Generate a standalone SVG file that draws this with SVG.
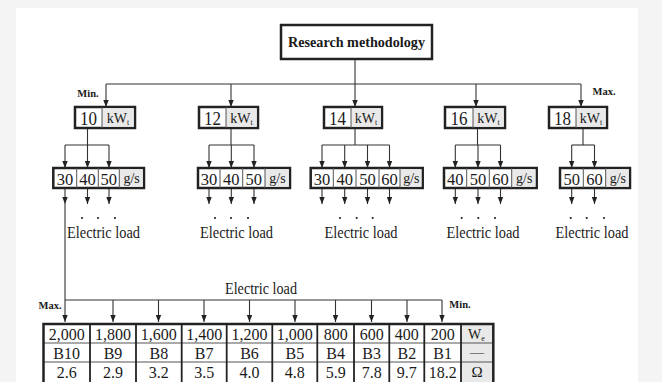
<svg xmlns="http://www.w3.org/2000/svg" width="662" height="382" viewBox="0 0 662 382">
<defs>
<marker id="ah" markerWidth="8" markerHeight="8" refX="7" refY="4" orient="auto" markerUnits="userSpaceOnUse">
<path d="M0,1.3 L7,4 L0,6.7 Z" fill="#222"/>
</marker>
<style>
.t{font-family:"Liberation Serif","Times New Roman",serif;fill:#1a1a1a;text-anchor:middle}
.b{font-weight:bold}
.box{fill:#fff;stroke:#222;stroke-width:2.5}
.unit{fill:#e9e9e9}
.div{stroke:#555;stroke-width:1}
.cdiv{stroke:#222;stroke-width:1.8}
.ln{stroke:#333;stroke-width:1.1;fill:none}
.ar{stroke:#333;stroke-width:1.1;fill:none;marker-end:url(#ah)}
.dot{fill:#222}
</style>
</defs>
<rect width="662" height="382" fill="#f4f4f4"/>
<rect x="16" y="8" width="622" height="380" fill="#fff"/>

<g id="connectors">
<line class="ln" x1="355" y1="59" x2="355" y2="84"/>
<line class="ln" x1="106" y1="84" x2="581" y2="84"/>
<line class="ar" x1="106" y1="84" x2="106" y2="107"/>
<line class="ar" x1="231" y1="84" x2="231" y2="107"/>
<line class="ar" x1="355" y1="84" x2="355" y2="107"/>
<line class="ar" x1="476" y1="84" x2="476" y2="107"/>
<line class="ar" x1="581" y1="84" x2="581" y2="107"/>
<line class="ln" x1="87.5" y1="128" x2="87.5" y2="145"/>
<line class="ln" x1="65" y1="145" x2="109" y2="145"/>
<line class="ar" x1="65" y1="145" x2="65" y2="168"/>
<line class="ar" x1="87.5" y1="145" x2="87.5" y2="168"/>
<line class="ar" x1="109" y1="145" x2="109" y2="168"/>
<line class="ar" x1="65" y1="188" x2="65" y2="204"/>
<line class="ar" x1="87.5" y1="188" x2="87.5" y2="204"/>
<line class="ar" x1="109" y1="188" x2="109" y2="204"/>
<line class="ln" x1="231" y1="128" x2="231" y2="145"/>
<line class="ln" x1="209" y1="145" x2="254" y2="145"/>
<line class="ar" x1="209" y1="145" x2="209" y2="168"/>
<line class="ar" x1="231.3" y1="145" x2="231.3" y2="168"/>
<line class="ar" x1="254" y1="145" x2="254" y2="168"/>
<line class="ar" x1="209" y1="188" x2="209" y2="204"/>
<line class="ar" x1="231.3" y1="188" x2="231.3" y2="204"/>
<line class="ar" x1="254" y1="188" x2="254" y2="204"/>
<line class="ln" x1="355" y1="128" x2="355" y2="145"/>
<line class="ln" x1="322" y1="145" x2="389.5" y2="145"/>
<line class="ar" x1="322" y1="145" x2="322" y2="168"/>
<line class="ar" x1="344.7" y1="145" x2="344.7" y2="168"/>
<line class="ar" x1="367.5" y1="145" x2="367.5" y2="168"/>
<line class="ar" x1="389.5" y1="145" x2="389.5" y2="168"/>
<line class="ar" x1="322" y1="188" x2="322" y2="204"/>
<line class="ar" x1="344.7" y1="188" x2="344.7" y2="204"/>
<line class="ar" x1="367.5" y1="188" x2="367.5" y2="204"/>
<line class="ar" x1="389.5" y1="188" x2="389.5" y2="204"/>
<line class="ln" x1="477.5" y1="128" x2="477.5" y2="145"/>
<line class="ln" x1="455.3" y1="145" x2="500.5" y2="145"/>
<line class="ar" x1="455.3" y1="145" x2="455.3" y2="168"/>
<line class="ar" x1="478" y1="145" x2="478" y2="168"/>
<line class="ar" x1="500.5" y1="145" x2="500.5" y2="168"/>
<line class="ar" x1="455.3" y1="188" x2="455.3" y2="204"/>
<line class="ar" x1="478" y1="188" x2="478" y2="204"/>
<line class="ar" x1="500.5" y1="188" x2="500.5" y2="204"/>
<line class="ln" x1="583" y1="128" x2="583" y2="145"/>
<line class="ln" x1="571.7" y1="145" x2="594.5" y2="145"/>
<line class="ar" x1="571.7" y1="145" x2="571.7" y2="168"/>
<line class="ar" x1="594.5" y1="145" x2="594.5" y2="168"/>
<line class="ar" x1="571.7" y1="188" x2="571.7" y2="204"/>
<line class="ar" x1="594.5" y1="188" x2="594.5" y2="204"/>
<line class="ln" x1="65" y1="204" x2="65" y2="300"/>
<line class="ln" x1="65" y1="300" x2="442" y2="300"/>
<line class="ar" x1="65" y1="300" x2="65" y2="322"/>
<line class="ar" x1="113" y1="300" x2="113" y2="322"/>
<line class="ar" x1="158.5" y1="300" x2="158.5" y2="322"/>
<line class="ar" x1="204" y1="300" x2="204" y2="322"/>
<line class="ar" x1="249.5" y1="300" x2="249.5" y2="322"/>
<line class="ar" x1="295" y1="300" x2="295" y2="322"/>
<line class="ar" x1="335.5" y1="300" x2="335.5" y2="322"/>
<line class="ar" x1="371.5" y1="300" x2="371.5" y2="322"/>
<line class="ar" x1="407" y1="300" x2="407" y2="322"/>
<line class="ar" x1="442" y1="300" x2="442" y2="322"/>
</g>

<g id="root">
<rect class="box" x="281" y="25" width="151" height="34"/>
<text class="t b" x="356.5" y="47" font-size="14.5" textLength="137" lengthAdjust="spacingAndGlyphs">Research methodology</text>
</g>

<text class="t b" x="88" y="97" font-size="10.5">Min.</text>
<text class="t b" x="604" y="95" font-size="10.5">Max.</text>

<g id="kw10">
<rect class="box" x="75" y="107" width="60" height="21"/>
<rect class="unit" x="102" y="108.2" width="31.7" height="18.6"/>
<line class="div" x1="102" y1="107" x2="102" y2="128"/>
<text class="t" x="88.5" y="124.5" font-size="18" textLength="17" lengthAdjust="spacingAndGlyphs">10</text>
<text class="t" x="118" y="123" font-size="14">kW<tspan font-size="8" dy="2">t</tspan></text>
</g>
<g id="kw12">
<rect class="box" x="199" y="107" width="59" height="21"/>
<rect class="unit" x="226" y="108.2" width="30.7" height="18.6"/>
<line class="div" x1="226" y1="107" x2="226" y2="128"/>
<text class="t" x="212.5" y="124.5" font-size="18" textLength="17" lengthAdjust="spacingAndGlyphs">12</text>
<text class="t" x="241.5" y="123" font-size="14">kW<tspan font-size="8" dy="2">t</tspan></text>
</g>
<g id="kw14">
<rect class="box" x="324" y="107" width="58" height="21"/>
<rect class="unit" x="351" y="108.2" width="29.7" height="18.6"/>
<line class="div" x1="351" y1="107" x2="351" y2="128"/>
<text class="t" x="337.5" y="124.5" font-size="18" textLength="17" lengthAdjust="spacingAndGlyphs">14</text>
<text class="t" x="366" y="123" font-size="14">kW<tspan font-size="8" dy="2">t</tspan></text>
</g>
<g id="kw16">
<rect class="box" x="445" y="107" width="60" height="21"/>
<rect class="unit" x="473" y="108.2" width="30.7" height="18.6"/>
<line class="div" x1="473" y1="107" x2="473" y2="128"/>
<text class="t" x="459" y="124.5" font-size="18" textLength="17" lengthAdjust="spacingAndGlyphs">16</text>
<text class="t" x="488.5" y="123" font-size="14">kW<tspan font-size="8" dy="2">t</tspan></text>
</g>
<g id="kw18">
<rect class="box" x="549" y="107" width="58" height="21"/>
<rect class="unit" x="576" y="108.2" width="29.7" height="18.6"/>
<line class="div" x1="576" y1="107" x2="576" y2="128"/>
<text class="t" x="562.5" y="124.5" font-size="18" textLength="17" lengthAdjust="spacingAndGlyphs">18</text>
<text class="t" x="591" y="123" font-size="14">kW<tspan font-size="8" dy="2">t</tspan></text>
</g>

<g id="flow10">
<rect class="box" x="53.3" y="168" width="90.7" height="20"/>
<rect class="unit" x="119.3" y="169.2" width="23.5" height="17.6"/>
<line class="div" x1="76.7" y1="168" x2="76.7" y2="188"/>
<line class="div" x1="98.3" y1="168" x2="98.3" y2="188"/>
<line class="div" x1="119.3" y1="168" x2="119.3" y2="188"/>
<text class="t" x="65" y="184.5" font-size="17" textLength="16.5" lengthAdjust="spacingAndGlyphs">30</text>
<text class="t" x="87.5" y="184.5" font-size="17" textLength="16.5" lengthAdjust="spacingAndGlyphs">40</text>
<text class="t" x="108.8" y="184.5" font-size="17" textLength="16.5" lengthAdjust="spacingAndGlyphs">50</text>
<text class="t" x="131.6" y="183" font-size="14">g/s</text>
</g>
<g id="flow12">
<rect class="box" x="198" y="168" width="92" height="20"/>
<rect class="unit" x="265" y="169.2" width="23.8" height="17.6"/>
<line class="div" x1="220" y1="168" x2="220" y2="188"/>
<line class="div" x1="242.7" y1="168" x2="242.7" y2="188"/>
<line class="div" x1="265" y1="168" x2="265" y2="188"/>
<text class="t" x="209" y="184.5" font-size="17" textLength="16.5" lengthAdjust="spacingAndGlyphs">30</text>
<text class="t" x="231.3" y="184.5" font-size="17" textLength="16.5" lengthAdjust="spacingAndGlyphs">40</text>
<text class="t" x="253.8" y="184.5" font-size="17" textLength="16.5" lengthAdjust="spacingAndGlyphs">50</text>
<text class="t" x="277.5" y="183" font-size="14">g/s</text>
</g>
<g id="flow14">
<rect class="box" x="310.7" y="168" width="112" height="20"/>
<rect class="unit" x="400" y="169.2" width="21.5" height="17.6"/>
<line class="div" x1="333.3" y1="168" x2="333.3" y2="188"/>
<line class="div" x1="356" y1="168" x2="356" y2="188"/>
<line class="div" x1="379" y1="168" x2="379" y2="188"/>
<line class="div" x1="400" y1="168" x2="400" y2="188"/>
<text class="t" x="322" y="184.5" font-size="17" textLength="16.5" lengthAdjust="spacingAndGlyphs">30</text>
<text class="t" x="344.7" y="184.5" font-size="17" textLength="16.5" lengthAdjust="spacingAndGlyphs">40</text>
<text class="t" x="367.5" y="184.5" font-size="17" textLength="16.5" lengthAdjust="spacingAndGlyphs">50</text>
<text class="t" x="389.5" y="184.5" font-size="17" textLength="16.5" lengthAdjust="spacingAndGlyphs">60</text>
<text class="t" x="411.3" y="183" font-size="14">g/s</text>
</g>
<g id="flow16">
<rect class="box" x="444" y="168" width="92.7" height="20"/>
<rect class="unit" x="511.7" y="169.2" width="23.8" height="17.6"/>
<line class="div" x1="466.7" y1="168" x2="466.7" y2="188"/>
<line class="div" x1="489.3" y1="168" x2="489.3" y2="188"/>
<line class="div" x1="511.7" y1="168" x2="511.7" y2="188"/>
<text class="t" x="455.3" y="184.5" font-size="17" textLength="16.5" lengthAdjust="spacingAndGlyphs">40</text>
<text class="t" x="478" y="184.5" font-size="17" textLength="16.5" lengthAdjust="spacingAndGlyphs">50</text>
<text class="t" x="500.5" y="184.5" font-size="17" textLength="16.5" lengthAdjust="spacingAndGlyphs">60</text>
<text class="t" x="524.2" y="183" font-size="14">g/s</text>
</g>
<g id="flow18">
<rect class="box" x="560" y="168" width="70" height="20"/>
<rect class="unit" x="605.7" y="169.2" width="23.1" height="17.6"/>
<line class="div" x1="583.3" y1="168" x2="583.3" y2="188"/>
<line class="div" x1="605.7" y1="168" x2="605.7" y2="188"/>
<text class="t" x="571.7" y="184.5" font-size="17" textLength="16.5" lengthAdjust="spacingAndGlyphs">50</text>
<text class="t" x="594.5" y="184.5" font-size="17" textLength="16.5" lengthAdjust="spacingAndGlyphs">60</text>
<text class="t" x="617.8" y="183" font-size="14">g/s</text>
</g>

<g id="loads">
<circle class="dot" cx="82" cy="218" r="1.1"/><circle class="dot" cx="98" cy="218" r="1.1"/><circle class="dot" cx="115" cy="218" r="1.1"/>
<circle class="dot" cx="215" cy="218" r="1.1"/><circle class="dot" cx="231" cy="218" r="1.1"/><circle class="dot" cx="248" cy="218" r="1.1"/>
<circle class="dot" cx="340" cy="218" r="1.1"/><circle class="dot" cx="356.7" cy="218" r="1.1"/><circle class="dot" cx="372.7" cy="218" r="1.1"/>
<circle class="dot" cx="461.7" cy="218" r="1.1"/><circle class="dot" cx="478.3" cy="218" r="1.1"/><circle class="dot" cx="495" cy="218" r="1.1"/>
<circle class="dot" cx="570.7" cy="218" r="1.1"/><circle class="dot" cx="586.7" cy="218" r="1.1"/><circle class="dot" cx="604" cy="218" r="1.1"/>
<text class="t" x="103.5" y="237.5" font-size="16" textLength="73" lengthAdjust="spacingAndGlyphs">Electric load</text>
<text class="t" x="236.5" y="237.5" font-size="16" textLength="73" lengthAdjust="spacingAndGlyphs">Electric load</text>
<text class="t" x="361" y="237.5" font-size="16" textLength="73" lengthAdjust="spacingAndGlyphs">Electric load</text>
<text class="t" x="483" y="237.5" font-size="16" textLength="73" lengthAdjust="spacingAndGlyphs">Electric load</text>
<text class="t" x="592" y="237.5" font-size="16" textLength="73" lengthAdjust="spacingAndGlyphs">Electric load</text>
<text class="t" x="261" y="294" font-size="16" textLength="72" lengthAdjust="spacingAndGlyphs">Electric load</text>
<text class="t b" x="50" y="309" font-size="10.5">Max.</text>
<text class="t b" x="460" y="308" font-size="10.5">Min.</text>
</g>

<g id="table">
<rect x="43.5" y="324" width="449.8" height="60" fill="#fff"/>
<rect class="unit" x="461" y="324" width="32.3" height="60"/>
<line class="div" x1="43.5" y1="343" x2="493.3" y2="343"/>
<line class="div" x1="43.5" y1="362" x2="493.3" y2="362"/>
<line class="cdiv" x1="90" y1="324" x2="90" y2="384"/>
<line class="cdiv" x1="136" y1="324" x2="136" y2="384"/>
<line class="cdiv" x1="181.7" y1="324" x2="181.7" y2="384"/>
<line class="cdiv" x1="226.7" y1="324" x2="226.7" y2="384"/>
<line class="cdiv" x1="272.3" y1="324" x2="272.3" y2="384"/>
<line class="cdiv" x1="317.3" y1="324" x2="317.3" y2="384"/>
<line class="cdiv" x1="354" y1="324" x2="354" y2="384"/>
<line class="cdiv" x1="389.3" y1="324" x2="389.3" y2="384"/>
<line class="cdiv" x1="424.3" y1="324" x2="424.3" y2="384"/>
<line class="cdiv" x1="461" y1="324" x2="461" y2="384"/>
<rect x="43.5" y="324" width="449.8" height="60" fill="none" stroke="#222" stroke-width="2.5"/>
<g font-size="16">
<text class="t" x="66.7" y="339.5">2,000</text>
<text class="t" x="113" y="339.5">1,800</text>
<text class="t" x="158.8" y="339.5">1,600</text>
<text class="t" x="204.2" y="339.5">1,400</text>
<text class="t" x="249.5" y="339.5">1,200</text>
<text class="t" x="294.8" y="339.5">1,000</text>
<text class="t" x="335.7" y="339.5">800</text>
<text class="t" x="371.7" y="339.5">600</text>
<text class="t" x="406.8" y="339.5">400</text>
<text class="t" x="442.7" y="339.5">200</text>
<text class="t" x="476.5" y="339" font-size="14">W<tspan font-size="8" dy="2">e</tspan></text>
<text class="t" x="66.7" y="358.5">B10</text>
<text class="t" x="113" y="358.5">B9</text>
<text class="t" x="158.8" y="358.5">B8</text>
<text class="t" x="204.2" y="358.5">B7</text>
<text class="t" x="249.5" y="358.5">B6</text>
<text class="t" x="294.8" y="358.5">B5</text>
<text class="t" x="335.7" y="358.5">B4</text>
<text class="t" x="371.7" y="358.5">B3</text>
<text class="t" x="406.8" y="358.5">B2</text>
<text class="t" x="442.7" y="358.5">B1</text>
<text class="t" x="477" y="357" font-size="14" fill="#777">—</text>
<text class="t" x="66.7" y="377.5">2.6</text>
<text class="t" x="113" y="377.5">2.9</text>
<text class="t" x="158.8" y="377.5">3.2</text>
<text class="t" x="204.2" y="377.5">3.5</text>
<text class="t" x="249.5" y="377.5">4.0</text>
<text class="t" x="294.8" y="377.5">4.8</text>
<text class="t" x="335.7" y="377.5">5.9</text>
<text class="t" x="371.7" y="377.5">7.8</text>
<text class="t" x="406.8" y="377.5">9.7</text>
<text class="t" x="442.7" y="377.5">18.2</text>
<text class="t" x="477" y="377" font-size="15">Ω</text>
</g>
</g>
</svg>
